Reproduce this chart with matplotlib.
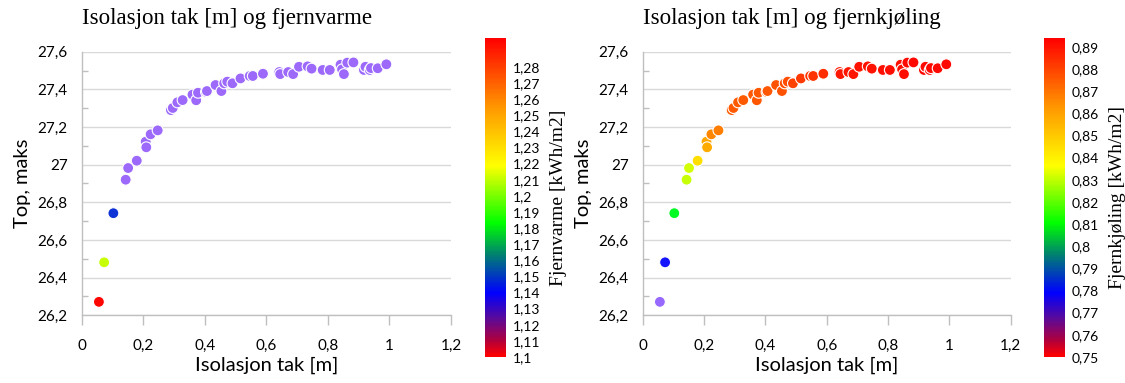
import matplotlib
matplotlib.use("Agg")
import matplotlib.pyplot as plt
import numpy as np
from matplotlib.colors import LinearSegmentedColormap, Normalize
from matplotlib.cm import ScalarMappable
from matplotlib.ticker import FuncFormatter, MultipleLocator, FixedLocator

# ---------------- data ----------------
iso_tak = [0.056, 0.073, 0.103, 0.143, 0.151, 0.179, 0.208, 0.210, 0.224, 0.247,
           0.290, 0.296, 0.311, 0.328, 0.360, 0.372, 0.378, 0.404, 0.407, 0.435,
           0.454, 0.463, 0.473, 0.490, 0.516, 0.546, 0.556, 0.589, 0.642, 0.645,
           0.671, 0.687, 0.706, 0.734, 0.747, 0.783, 0.806, 0.841, 0.846, 0.852,
           0.863, 0.883, 0.917, 0.922, 0.936, 0.940, 0.962, 0.990]
top_maks = [26.271, 26.481, 26.742, 26.920, 26.982, 27.021, 27.122, 27.092, 27.161, 27.182,
            27.290, 27.301, 27.331, 27.343, 27.372, 27.342, 27.382, 27.386, 27.391, 27.423,
            27.391, 27.432, 27.441, 27.432, 27.458, 27.471, 27.471, 27.483, 27.492, 27.481,
            27.492, 27.481, 27.520, 27.522, 27.510, 27.503, 27.503, 27.531, 27.506, 27.481,
            27.542, 27.543, 27.503, 27.520, 27.503, 27.513, 27.512, 27.533]
fjernvarme = [1.296, 1.211, 1.147] + [1.120] * 45
fjernkjoling = [0.765, 0.779, 0.810, 0.831, 0.832, 0.845, 0.859, 0.858, 0.866, 0.868,
                0.875, 0.875, 0.875, 0.875, 0.876, 0.876, 0.876, 0.876, 0.876, 0.877,
                0.877, 0.878, 0.878, 0.880, 0.882, 0.883, 0.883, 0.884, 0.889, 0.889,
                0.889, 0.889, 0.890, 0.890, 0.890, 0.891, 0.891, 0.891, 0.891, 0.891,
                0.892, 0.892, 0.892, 0.892, 0.892, 0.892, 0.892, 0.892]
fv_ticks = [1.10, 1.11, 1.12, 1.13, 1.14, 1.15, 1.16, 1.17, 1.18, 1.19,
            1.20, 1.21, 1.22, 1.23, 1.24, 1.25, 1.26, 1.27, 1.28]
fk_ticks = [0.75, 0.76, 0.77, 0.78, 0.79, 0.80, 0.81, 0.82, 0.83, 0.84,
            0.85, 0.86, 0.87, 0.88, 0.89]
fv_range = (1.10, 1.298)
fk_range = (0.75, 0.894)

titles = ["Isolasjon tak [m] og fjernvarme", "Isolasjon tak [m] og fjernkjøling"]
cbar_labels = ["Fjernvarme [kWh/m2]", "Fjernkjøling [kWh/m2]"]

# ---------------- colormaps ----------------
bar_anchors = [(0.00, "#ff0000"), (0.05, "#b0003c"), (0.12, "#5a0a9a"), (0.20, "#0000ff"),
               (0.32, "#008070"), (0.42, "#00ff00"), (0.60, "#ffff00"), (0.78, "#ff9900"),
               (1.00, "#ff0000")]
pt_anchors = [(0.00, "#ff0000"), (0.05, "#c04090"), (0.10, "#9b6bff"), (0.20, "#1414ff"),
              (0.32, "#008070"), (0.42, "#00ff20"), (0.60, "#ffff00"), (0.78, "#ff9900"),
              (1.00, "#ff0000")]
cmap_bar = LinearSegmentedColormap.from_list("bar", bar_anchors)
cmap_pt = LinearSegmentedColormap.from_list("pt", pt_anchors)

TICK_FONT = "Lato"
SERIF = "Liberation Serif"

fig = plt.figure(figsize=(11.25, 3.83), dpi=100)

def comma(v, pos=None):
    s = f"{round(v, 4):g}"
    return s.replace(".", ",")

ax_pos = [[0.0726, 0.177, 0.3283, 0.688], [0.5713, 0.177, 0.3271, 0.688]]
cb_pos = [[0.4311, 0.068, 0.0187, 0.833], [0.928, 0.068, 0.0187, 0.833]]
vals = [fjernvarme, fjernkjoling]
ranges = [fv_range, fk_range]
cticks = [fv_ticks, fk_ticks]

for i in range(2):
    ax = fig.add_axes(ax_pos[i])
    norm = Normalize(*ranges[i])
    ax.scatter(iso_tak, top_maks, c=vals[i], cmap=cmap_pt, norm=norm, s=62,
               edgecolors="white", linewidths=0.8, zorder=3, clip_on=False)
    ax.set_xlim(0, 1.2)
    ax.set_ylim(26.2, 27.6)
    ax.xaxis.set_major_locator(MultipleLocator(0.2))
    ax.yaxis.set_major_locator(MultipleLocator(0.2))
    ax.yaxis.set_minor_locator(FixedLocator(np.arange(26.3, 27.6, 0.2)))
    ax.xaxis.set_major_formatter(FuncFormatter(comma))
    ax.yaxis.set_major_formatter(FuncFormatter(comma))
    ax.grid(axis="y", which="major", color="#d9d9d9", linewidth=1.0, zorder=0)
    ax.set_axisbelow(True)
    for sp in ["top", "right"]:
        ax.spines[sp].set_visible(False)
    for sp in ["left", "bottom"]:
        ax.spines[sp].set_color("#bfbfbf")
        ax.spines[sp].set_linewidth(1.0)
    ax.tick_params(axis="x", which="major", direction="out", length=7, width=1,
                   color="#bfbfbf", pad=10, labelsize=11, labelcolor="black")
    ax.tick_params(axis="y", which="major", length=0, pad=10, labelsize=11,
                   labelcolor="black")
    ax.tick_params(axis="y", which="minor", direction="in", length=4, width=1,
                   color="#bfbfbf")
    for lab in ax.get_xticklabels() + ax.get_yticklabels():
        lab.set_fontfamily(TICK_FONT)
    ax.set_xlabel("Isolasjon tak [m]", fontsize=14.5, fontfamily=TICK_FONT, labelpad=3)
    ax.set_ylabel("Top, maks", fontsize=14.5, fontfamily=TICK_FONT, labelpad=5)
    ax.text(0.0, 1.0 + 33 / 264, titles[i], transform=ax.transAxes, ha="left",
            va="center", fontsize=16.5, fontfamily=SERIF)

    cax = fig.add_axes(cb_pos[i])
    sm = ScalarMappable(norm=norm, cmap=cmap_bar)
    cb = fig.colorbar(sm, cax=cax, ticks=cticks[i])
    cb.outline.set_visible(False)
    cax.yaxis.set_major_formatter(FuncFormatter(comma))
    cax.tick_params(length=0, pad=5, labelsize=10)
    for lab in cax.get_yticklabels():
        lab.set_fontfamily(TICK_FONT)
    cb.set_label(cbar_labels[i], fontsize=14, fontfamily=SERIF, labelpad=7)

fig.savefig("out.png", dpi=100)
